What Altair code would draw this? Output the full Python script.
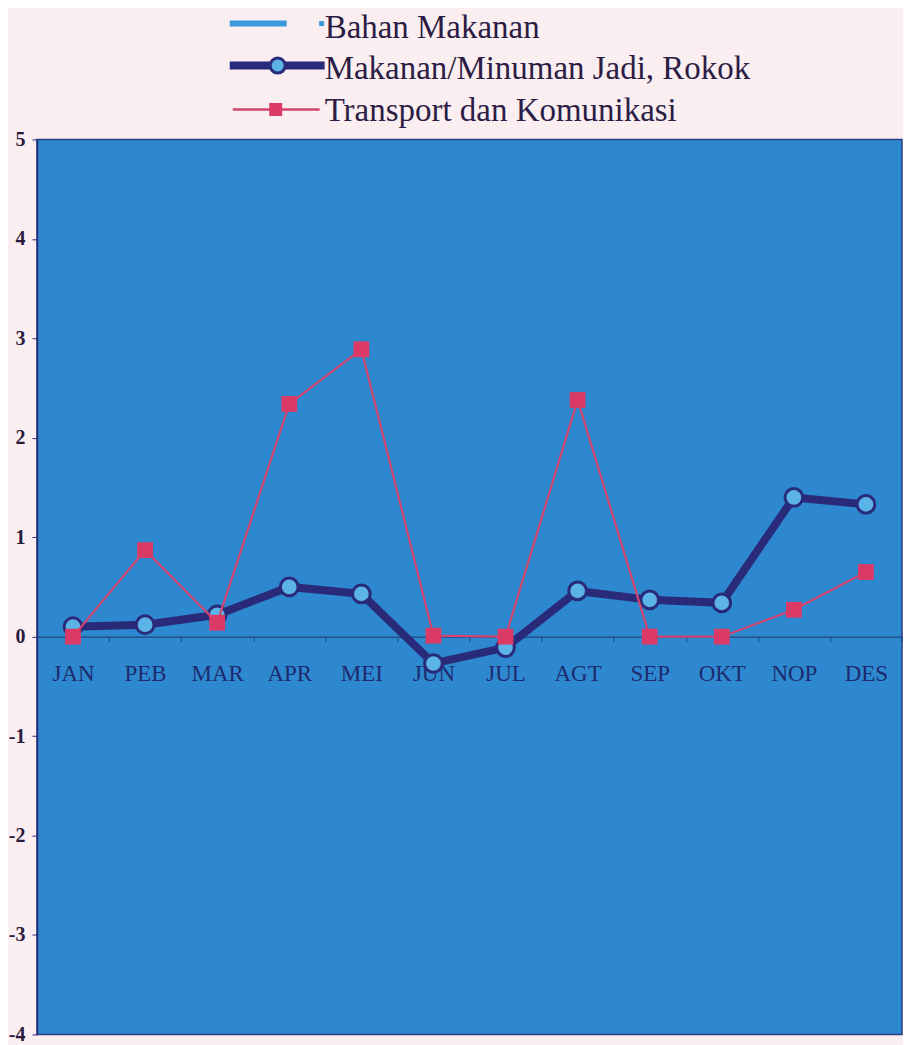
import altair as alt
import pandas as pd

months = ["JAN", "PEB", "MAR", "APR", "MEI", "JUN", "JUL", "AGT", "SEP", "OKT", "NOP", "DES"]
makanan = [0.10, 0.12, 0.22, 0.50, 0.43, -0.27, -0.11, 0.46, 0.37, 0.34, 1.40, 1.33]
transport = [0.00, 0.87, 0.14, 2.34, 2.89, 0.01, 0.00, 2.38, 0.00, 0.00, 0.27, 0.65]
series_names = ["Bahan Makanan", "Makanan/Minuman Jadi, Rokok", "Transport dan Komunikasi"]
y_ticks = [-4, -3, -2, -1, 0, 1, 2, 3, 4, 5]

W, H = 866, 896
FONT = "Liberation Serif"
NAVY = "#2a2a7a"
LIGHT = "#5cb3e8"
RED = "#dc3a66"
REDLINE = "#d2456f"
BLUE_BG = "#2e88cf"
BAHAN = "#3a98dc"
TXT = "#2b1d45"

df_m = pd.DataFrame({"bulan": months, "nilai": makanan})
df_t = pd.DataFrame({"bulan": months, "nilai": transport})

x = alt.X(
    "bulan:N", sort=months, bandPosition=0.5,
    scale=alt.Scale(type="band", paddingInner=0, paddingOuter=0),
    axis=alt.Axis(title=None, orient="bottom", offset=-H * 4 / 9,
                  domainColor="#23457f", domainWidth=1.2,
                  tickColor="#23457f", tickSize=5, tickBand="extent",
                  labelFont=FONT, labelFontSize=23, labelColor="#1e2a6e",
                  labelPadding=21, labelAngle=0, grid=False),
)
y = alt.Y(
    "nilai:Q",
    scale=alt.Scale(domain=[-4, 5], nice=False, zero=False),
    axis=alt.Axis(title=None, values=y_ticks, labelExpr="'' + datum.value", grid=False,
                  domainColor=NAVY, domainWidth=1.5, tickColor=NAVY, tickSize=5,
                  labelFont=FONT, labelFontSize=20, labelFontWeight="bold",
                  labelColor="#2a1b3d", labelPadding=7),
)

m_line = alt.Chart(df_m).mark_line(color=NAVY, strokeWidth=8).encode(x=x, y=y)
m_pts = alt.Chart(df_m).mark_point(shape="circle", filled=True, fill=LIGHT, stroke=NAVY,
                                   strokeWidth=3, size=314, opacity=1).encode(x=x, y=y)
t_line = alt.Chart(df_t).mark_line(color=REDLINE, strokeWidth=2.2).encode(x=x, y=y)
t_pts = alt.Chart(df_t).mark_square(color=RED, size=250, opacity=1).encode(x=x, y=y)

one = pd.DataFrame({"k": [0]})


def leg_rule(x1, x2, yv, color, w):
    return alt.Chart(one).mark_rule(color=color, strokeWidth=w).encode(
        x=alt.value(x1), x2=alt.value(x2), y=alt.value(yv))


def leg_text(name, yv):
    return alt.Chart(pd.DataFrame({"s": [name]})).mark_text(
        align="left", baseline="middle", font=FONT, fontSize=33, color=TXT
    ).encode(x=alt.value(288), y=alt.value(yv), text="s:N")


legend = [
    leg_rule(193, 250, -116, BAHAN, 6),
    alt.Chart(one).mark_square(color=BAHAN, size=25, opacity=1).encode(x=alt.value(285), y=alt.value(-116)),
    leg_text(series_names[0], -112),
    leg_rule(193, 288, -74, NAVY, 8),
    alt.Chart(one).mark_point(shape="circle", filled=True, fill=LIGHT, stroke=NAVY, strokeWidth=3,
                              size=227, opacity=1).encode(x=alt.value(241), y=alt.value(-74)),
    leg_text(series_names[1], -71),
    leg_rule(196, 283, -30, REDLINE, 2.5),
    alt.Chart(one).mark_square(color=RED, size=169, opacity=1).encode(x=alt.value(239), y=alt.value(-30)),
    leg_text(series_names[2], -28),
]

chart = alt.layer(m_line, m_pts, t_line, t_pts, *legend).properties(
    width=W, height=H,
    padding={"left": 0, "top": 3, "right": 0, "bottom": 0},
    background="#fbeef1",
).configure_view(fill=BLUE_BG, stroke="#2b3f86", strokeWidth=1.5)

chart.save("out.html", embed_options={"renderer": "svg", "actions": False})
